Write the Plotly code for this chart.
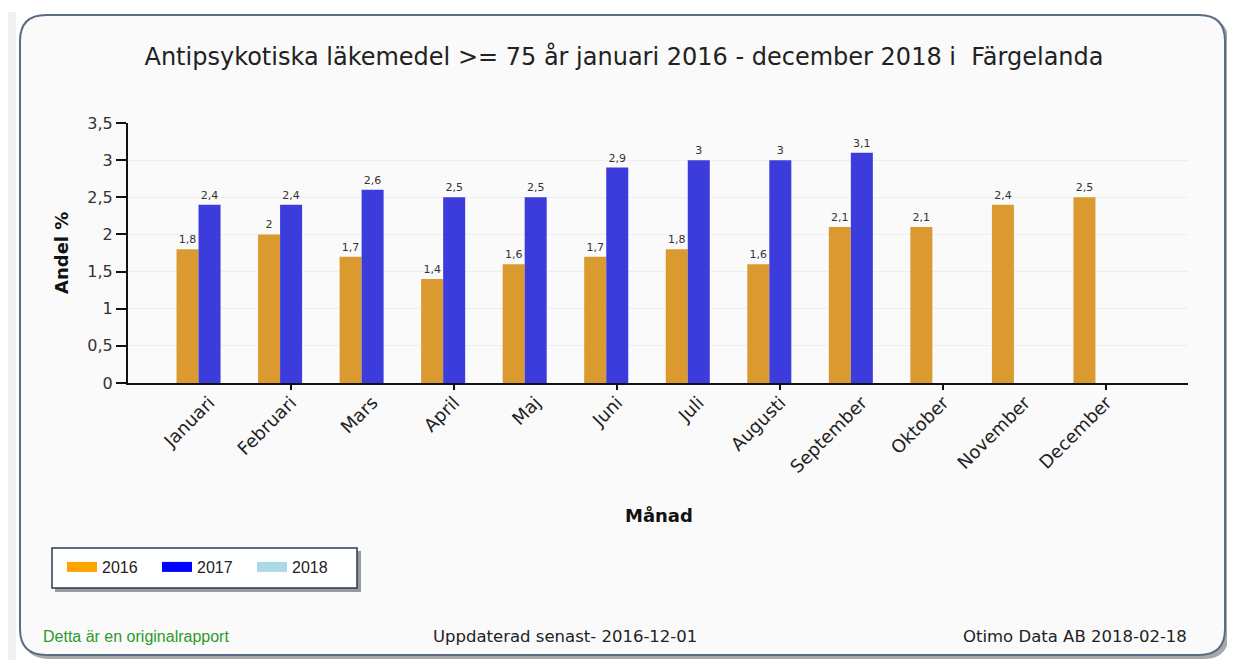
import plotly.graph_objects as go

months = ["Januari", "Februari", "Mars", "April", "Maj", "Juni", "Juli",
          "Augusti", "September", "Oktober", "November", "December"]
v2016 = [1.8, 2.0, 1.7, 1.4, 1.6, 1.7, 1.8, 1.6, 2.1, 2.1, 2.4, 2.5]
v2017 = [2.4, 2.4, 2.6, 2.5, 2.5, 2.9, 3.0, 3.0, 3.1, None, None, None]
v2018 = [None] * 12
series_names = ["2016", "2017", "2018"]
bar_colors = ["#DA9A30", "#3C3CDC", "#ADD8E6"]
legend_colors = ["#FFA500", "#0000FF", "#ADD8E6"]
y_ticks = [0, 0.5, 1, 1.5, 2, 2.5, 3, 3.5]
x_tick_marks = [1, 3, 5, 7, 9, 11]

W, H = 1235, 660
OFF = 8  # page body margin
# plot area in page pixels
PL, PR, PT, PB = 128, 1188, 123, 383
L, R, T, B = PL - OFF, PR - OFF, PT - OFF, PB - OFF


def px(x):
    return (x - PL) / (PR - PL)


def py(y):
    return (PB - y) / (PB - PT)


def rrect(x0, y0, x1, y1, r):
    rx = r / (PR - PL)
    ry = r / (PB - PT)
    X0, X1, Y0, Y1 = px(x0), px(x1), py(y0), py(y1)
    return (f"M {X0+rx},{Y0} L {X1-rx},{Y0} Q {X1},{Y0} {X1},{Y0-ry} "
            f"L {X1},{Y1+ry} Q {X1},{Y1} {X1-rx},{Y1} L {X0+rx},{Y1} "
            f"Q {X0},{Y1} {X0},{Y1+ry} L {X0},{Y0-ry} Q {X0},{Y0} {X0+rx},{Y0} Z")


def fmt(v):
    return "" if v is None else f"{v:g}".replace(".", ",")


fig = go.Figure()
for name, vals, col in zip(series_names, [v2016, v2017, v2018], bar_colors):
    fig.add_trace(go.Bar(
        x=months, y=vals, name=name, marker_color=col,
        marker_line_width=0,
        text=[fmt(v) for v in vals], textposition="outside",
        textfont=dict(size=11, color="#333", family="DejaVu Sans"),
        cliponaxis=False, showlegend=False,
    ))
for name, col in zip(series_names, legend_colors):
    fig.add_trace(go.Scatter(
        x=[None], y=[None], mode="lines", name=name,
        line=dict(color=col, width=12), showlegend=True,
    ))
fig.add_trace(go.Scatter(x=[None], y=[None], xaxis="x2", showlegend=False,
                         hoverinfo="skip"))

shapes = [
    dict(type="rect", xref="paper", yref="paper", x0=px(5), x1=px(16),
         y0=py(12), y1=py(670), fillcolor="#f0f0f0", line_width=0, layer="below"),
    dict(type="path", xref="paper", yref="paper", path=rrect(23, 18, 1229, 659, 26),
         fillcolor="#a8a8a8", line_width=0, layer="below"),
    dict(type="path", xref="paper", yref="paper", path=rrect(20, 15, 1225, 655, 26),
         fillcolor="#fafafa", line=dict(color="#5a6b85", width=2), layer="below"),
    dict(type="rect", xref="paper", yref="paper", x0=px(55), x1=px(361),
         y0=py(551), y1=py(592), fillcolor="#9a9a9a", line_width=0, layer="below"),
    dict(type="rect", xref="paper", yref="paper", x0=px(52), x1=px(357),
         y0=py(548), y1=py(588), fillcolor="white",
         line=dict(color="#2a3a5a", width=1.5), layer="below"),
]

annotations = [
    dict(text="Andel %", xref="paper", yref="paper", x=px(61), y=py(253),
         xanchor="center", yanchor="middle",
         textangle=-90, showarrow=False,
         font=dict(size=18, color="#111", family="DejaVu Sans", weight="bold")),
    dict(text="Månad", xref="paper", yref="paper", x=px(659), y=py(515),
         xanchor="center", yanchor="middle", showarrow=False,
         font=dict(size=18, color="#111", family="DejaVu Sans", weight="bold")),
    dict(text="Detta är en originalrapport", xref="paper", yref="paper",
         x=px(41), y=py(636), xanchor="left", yanchor="middle", showarrow=False,
         font=dict(size=16, color="#2a9a2a", family="Liberation Sans")),
    dict(text="Uppdaterad senast- 2016-12-01", xref="paper", yref="paper",
         x=px(565), y=py(636), xanchor="center", yanchor="middle", showarrow=False,
         font=dict(size=16.5, color="#222", family="DejaVu Sans")),
    dict(text="Otimo Data AB 2018-02-18", xref="paper", yref="paper",
         x=px(1189), y=py(636), xanchor="right", yanchor="middle", showarrow=False,
         font=dict(size=16.5, color="#222", family="DejaVu Sans")),
]

xr = [-1, 12]
fig.update_layout(
    width=W, height=H,
    margin=dict(l=L, r=W - R, t=T, b=H - B, pad=0),
    paper_bgcolor="white", plot_bgcolor="white",
    separators=", ",
    barmode="group", bargap=0.19, bargroupgap=0,
    title=dict(text="Antipsykotiska läkemedel >= 75 år januari 2016 - december 2018 i  Färgelanda",
               x=(624 - OFF) / W, xanchor="center", y=1 - (57 - OFF) / H, yanchor="middle",
               font=dict(size=24, color="#222", family="DejaVu Sans")),
    xaxis=dict(range=xr, tickangle=-45, ticks="", showline=True, linecolor="#111",
               linewidth=2, showgrid=False,
               tickfont=dict(size=18, color="#222", family="DejaVu Sans")),
    xaxis2=dict(overlaying="x", range=xr, anchor="y", side="bottom",
                tickvals=x_tick_marks,
                ticks="outside", ticklen=6, tickcolor="#111", tickwidth=1.5,
                showticklabels=False, showgrid=False, showline=False, zeroline=False),
    yaxis=dict(range=[0, 3.5], tickvals=y_ticks, ticks="outside", ticklen=10,
               tickcolor="#111", tickwidth=1.5, showline=True, linecolor="#111",
               linewidth=2, gridcolor="#eeeeee", zeroline=False,
               tickfont=dict(size=16, color="#333", family="DejaVu Sans")),
    legend=dict(orientation="h", x=px(62), y=py(567), xanchor="left", yanchor="middle",
                bgcolor="rgba(0,0,0,0)", borderwidth=0, entrywidth=50,
                font=dict(size=16, color="#222", family="Liberation Sans")),
    shapes=shapes, annotations=annotations,
)

fig.write_html("out.html")
